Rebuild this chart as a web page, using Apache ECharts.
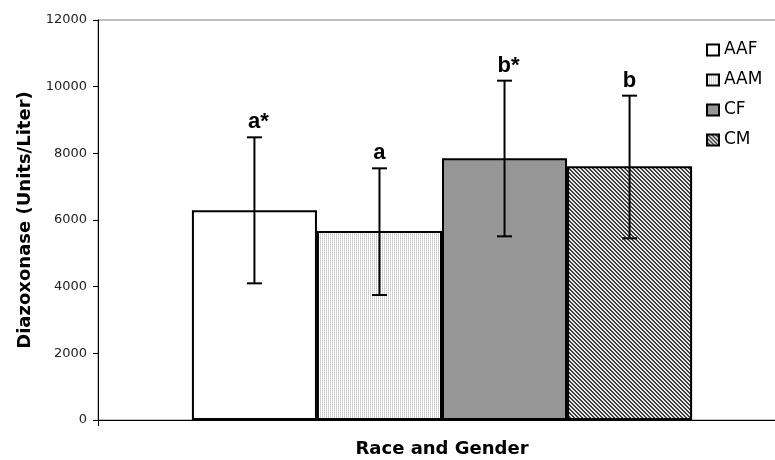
<!DOCTYPE html>
<html>
<head>
<meta charset="utf-8">
<script src="https://cdn.jsdelivr.net/npm/echarts@6/dist/echarts.min.js"></script>
<style>html,body{margin:0;padding:0;background:#fff}#c{width:775px;height:460px}</style>
</head>
<body>
<div id="c"></div>
<script>
var categories = [''];
var groups = ['AAF', 'AAM', 'CF', 'CM'];
var means = [6290, 5670, 7850, 7610];
var errLow = [4100, 3750, 5510, 5450];
var errHigh = [8480, 7550, 10180, 9730];
var sigLabels = ['a*', 'a', 'b*', 'b'];
var yTicks = [0, 2000, 4000, 6000, 8000, 10000, 12000];

function makePattern(w, h, fn) {
  var cv = document.createElement('canvas');
  cv.width = w; cv.height = h;
  var ctx = cv.getContext('2d');
  for (var y = 0; y < h; y++) for (var x = 0; x < w; x++) {
    ctx.fillStyle = fn(x, y);
    ctx.fillRect(x, y, 1, 1);
  }
  return cv;
}
var dotPat = makePattern(2, 2, function (x, y) {
  if (x === 0) return y === 0 ? '#c4c4c4' : '#dedede';
  return '#ffffff';
});
var hatchPat = makePattern(4, 4, function (x, y) {
  return ((x - y + 8) % 4) < 2 ? '#404040' : '#e8e8e8';
});
var fills = ['#ffffff', {image: dotPat, repeat: 'repeat'}, '#969696', {image: hatchPat, repeat: 'repeat'}];

var gapPct = 27.3;
var chart = echarts.init(document.getElementById('c'), null, {renderer: 'canvas'});
var series = groups.map(function (g, i) {
  return {
    name: g, type: 'bar', barGap: '0%', barCategoryGap: gapPct + '%',
    data: [means[i]],
    itemStyle: {color: fills[i], borderColor: '#000', borderWidth: 2},
    emphasis: {disabled: true},
    z: 2
  };
});
series.push({
  type: 'custom', name: 'err', z: 5,
  data: groups.map(function (g, i) { return [0, errLow[i], errHigh[i], i]; }),
  renderItem: function (params, api) {
    var i = api.value(3);
    var band = api.size([1, 0])[0];
    var bw = band * (1 - gapPct / 100) / groups.length;
    var cx = api.coord([0, 0])[0] + (i - (groups.length - 1) / 2) * bw;
    var yl = api.coord([0, api.value(1)])[1];
    var yh = api.coord([0, api.value(2)])[1];
    var st = {stroke: '#000', lineWidth: 2};
    return {type: 'group', children: [
      {type: 'line', shape: {x1: cx, y1: yl, x2: cx, y2: yh}, style: st},
      {type: 'line', shape: {x1: cx - 7.5, y1: yl, x2: cx + 7.5, y2: yl}, style: st},
      {type: 'line', shape: {x1: cx - 7.5, y1: yh, x2: cx + 7.5, y2: yh}, style: st},
      {type: 'text', x: cx + (sigLabels[i].length > 1 ? 4 : 0), y: yh - 4,
        style: {text: sigLabels[i], fill: '#000', font: 'bold 22px "Liberation Sans Narrow", "Liberation Sans", Arial, sans-serif', align: 'center', verticalAlign: 'bottom'}}
    ]};
  }
});

chart.setOption({
  animation: false,
  textStyle: {fontFamily: '"DejaVu Sans", Arial, sans-serif'},
  grid: {left: 98, top: 20, right: -11, bottom: 40, show: true, borderColor: '#808080', borderWidth: 1,
    containLabel: false, outerBoundsMode: 'none'},
  legend: {
    data: groups, orient: 'vertical', left: 706, top: 40, padding: 0,
    itemWidth: 12, itemHeight: 11, itemGap: 10,
    icon: 'rect',
    textStyle: {fontSize: 17, lineHeight: 20, color: '#000', fontFamily: '"DejaVu Sans", Arial, sans-serif'},
    itemStyle: {borderColor: '#000', borderWidth: 2},
    selectedMode: false
  },
  xAxis: {
    type: 'category', data: categories,
    name: 'Race and Gender', nameLocation: 'middle', nameGap: 20,
    nameTextStyle: {fontSize: 18, fontWeight: 'bold', color: '#000', fontFamily: '"DejaVu Sans", Arial, sans-serif', verticalAlign: 'top'},
    axisLine: {lineStyle: {color: '#000', width: 1}},
    axisTick: {show: true, length: 6, lineStyle: {color: '#000'}},
    axisLabel: {show: false}
  },
  yAxis: {
    type: 'value', min: 0, max: 12000, interval: 2000,
    name: 'Diazoxonase (Units/Liter)', nameLocation: 'middle', nameGap: 64,
    nameTextStyle: {fontSize: 18, fontWeight: 'bold', color: '#000', fontFamily: '"DejaVu Sans", Arial, sans-serif'},
    axisLine: {show: true, lineStyle: {color: '#000', width: 1}},
    axisTick: {show: true, length: 5, lineStyle: {color: '#000'}},
    axisLabel: {fontSize: 13, color: '#222', margin: 11, fontFamily: '"DejaVu Sans", Arial, sans-serif',
      formatter: function (v) { return yTicks.indexOf(v) >= 0 ? String(v) : ''; }},
    splitLine: {show: false}
  },
  series: series
});
</script>
</body>
</html>
